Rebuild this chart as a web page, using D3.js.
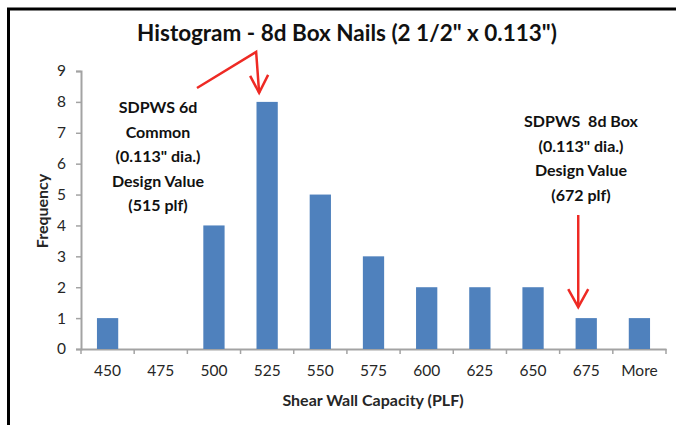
<!DOCTYPE html>
<html>
<head>
<meta charset="utf-8">
<script src="https://cdn.jsdelivr.net/npm/d3@7"></script>
<style>
    body { margin: 0; background: #fff; }
    #chart text { font-family: Lato, "Open Sans", sans-serif; white-space: pre; }
</style>
</head>
<body>
<div id="chart"></div>
<script>
// histogram data
var categories = ["450", "475", "500", "525", "550", "575", "600", "625", "650", "675", "More"];
var frequencies = [1, 0, 4, 8, 5, 3, 2, 2, 2, 1, 1];
var yTickValues = [0, 1, 2, 3, 4, 5, 6, 7, 8, 9];

var chartTitle = "Histogram - 8d Box Nails (2 1/2\" x 0.113\")";
var xTitle = "Shear Wall Capacity (PLF)";
var yTitle = "Frequency";
var leftNote = ["SDPWS 6d", "Common", "(0.113\" dia.)", "Design Value", "(515 plf)"];
var rightNote = ["SDPWS  8d Box", "(0.113\" dia.)", "Design Value", "(672 plf)"];

var width = 676,
    height = 425,
    margin = { top: 71, right: 10, bottom: 76, left: 81 };

var axisColor = "#a3a3a3",
    textColor = "#262626",
    barColor = "#4F81BD",
    arrowColor = "#ee2a24";

// set the ranges
var x = d3.scaleBand()
    .domain(categories)
    .range([margin.left, width - margin.right])
    .paddingInner(0.6)
    .paddingOuter(0.3);

var y = d3.scaleLinear()
    .domain([0, 9])
    .range([height - margin.bottom, margin.top]);

// category boundaries for the tick marks
var xEdge = d3.scaleLinear()
    .domain([0, categories.length])
    .range(x.range());

var svg = d3.select("#chart").append("svg")
    .attr("width", width)
    .attr("height", height);

// frame (top and left edges only)
svg.append("path")
    .attr("d", "M8.5,425 V9 H676")
    .attr("fill", "none")
    .attr("stroke", "#000")
    .attr("stroke-width", 3);

// title
svg.append("text")
    .attr("x", 347)
    .attr("y", 41)
    .attr("text-anchor", "middle")
    .attr("font-size", 22.5)
    .attr("font-weight", "bold")
    .attr("fill", "#111")
    .text(chartTitle);

// y axis
var yAxis = svg.append("g")
    .attr("transform", "translate(" + margin.left + ",0)")
    .call(d3.axisLeft(y).tickValues(yTickValues).tickSize(5).tickPadding(10).tickFormat(d3.format("d")));

// x axis: labels centred on the bars, ticks on the category edges
var xAxis = svg.append("g")
    .attr("transform", "translate(0," + y(0) + ")")
    .call(d3.axisBottom(x).tickSize(0).tickPadding(16).tickSizeOuter(0));

xAxis.selectAll(".tick-edge")
    .data(d3.range(categories.length + 1))
    .enter().append("line")
    .attr("class", "tick-edge")
    .attr("x1", function (d) { return xEdge(d); })
    .attr("x2", function (d) { return xEdge(d); })
    .attr("y1", 0)
    .attr("y2", 5);

[yAxis, xAxis].forEach(function (g) {
    g.select(".domain").attr("stroke", axisColor).attr("stroke-width", 2);
    g.selectAll("line").attr("stroke", axisColor).attr("stroke-width", 1.5);
    g.selectAll("text")
        .attr("fill", textColor)
        .attr("font-size", 15.5)
        .style("font-family", "Lato, 'Open Sans', sans-serif");
});

// bars
svg.selectAll(".bar")
    .data(frequencies)
    .enter().append("rect")
    .attr("class", "bar")
    .attr("x", function (d, i) { return x(categories[i]); })
    .attr("width", x.bandwidth())
    .attr("y", function (d) { return y(d); })
    .attr("height", function (d) { return y(0) - y(d); })
    .attr("fill", barColor);

// axis titles
svg.append("text")
    .attr("x", 373)
    .attr("y", 406)
    .attr("text-anchor", "middle")
    .attr("font-size", 16)
    .attr("font-weight", "bold")
    .attr("fill", textColor)
    .text(xTitle);

svg.append("text")
    .attr("transform", "translate(48,211) rotate(-90)")
    .attr("text-anchor", "middle")
    .attr("font-size", 16)
    .attr("font-weight", "bold")
    .attr("fill", textColor)
    .text(yTitle);

// annotations
function addNote(lines, cx, top) {
    svg.append("text")
        .attr("text-anchor", "middle")
        .attr("font-size", 16)
        .attr("font-weight", "bold")
        .attr("fill", "#111")
        .selectAll("tspan")
        .data(lines)
        .enter().append("tspan")
        .attr("x", cx)
        .attr("y", function (d, i) { return top + i * 24.5; })
        .text(function (d) { return d; });
}
addNote(leftNote, 158, 113);
addNote(rightNote, 581, 127);

// red arrows
var line = d3.line();
var cx525 = x("525") + x.bandwidth() / 2 - 8,
    cx675 = x("675") + x.bandwidth() / 2 - 8;

var leftTipY = y(8) - 9,
    rightTipY = y(1) - 11;

svg.append("path")
    .attr("d", line([[197, 88], [cx525 - 3, 52], [cx525, leftTipY]]))
    .attr("fill", "none")
    .attr("stroke", arrowColor)
    .attr("stroke-width", 2.5);
svg.append("path")
    .attr("d", line([[cx525 - 9, leftTipY - 17], [cx525, leftTipY], [cx525 + 9, leftTipY - 18]]))
    .attr("fill", "none")
    .attr("stroke", arrowColor)
    .attr("stroke-width", 2.5);

svg.append("path")
    .attr("d", line([[cx675, 215], [cx675, rightTipY]]))
    .attr("fill", "none")
    .attr("stroke", arrowColor)
    .attr("stroke-width", 2.5);
svg.append("path")
    .attr("d", line([[cx675 - 10, rightTipY - 18], [cx675, rightTipY], [cx675 + 10, rightTipY - 18]]))
    .attr("fill", "none")
    .attr("stroke", arrowColor)
    .attr("stroke-width", 2.5);
</script>
</body>
</html>
